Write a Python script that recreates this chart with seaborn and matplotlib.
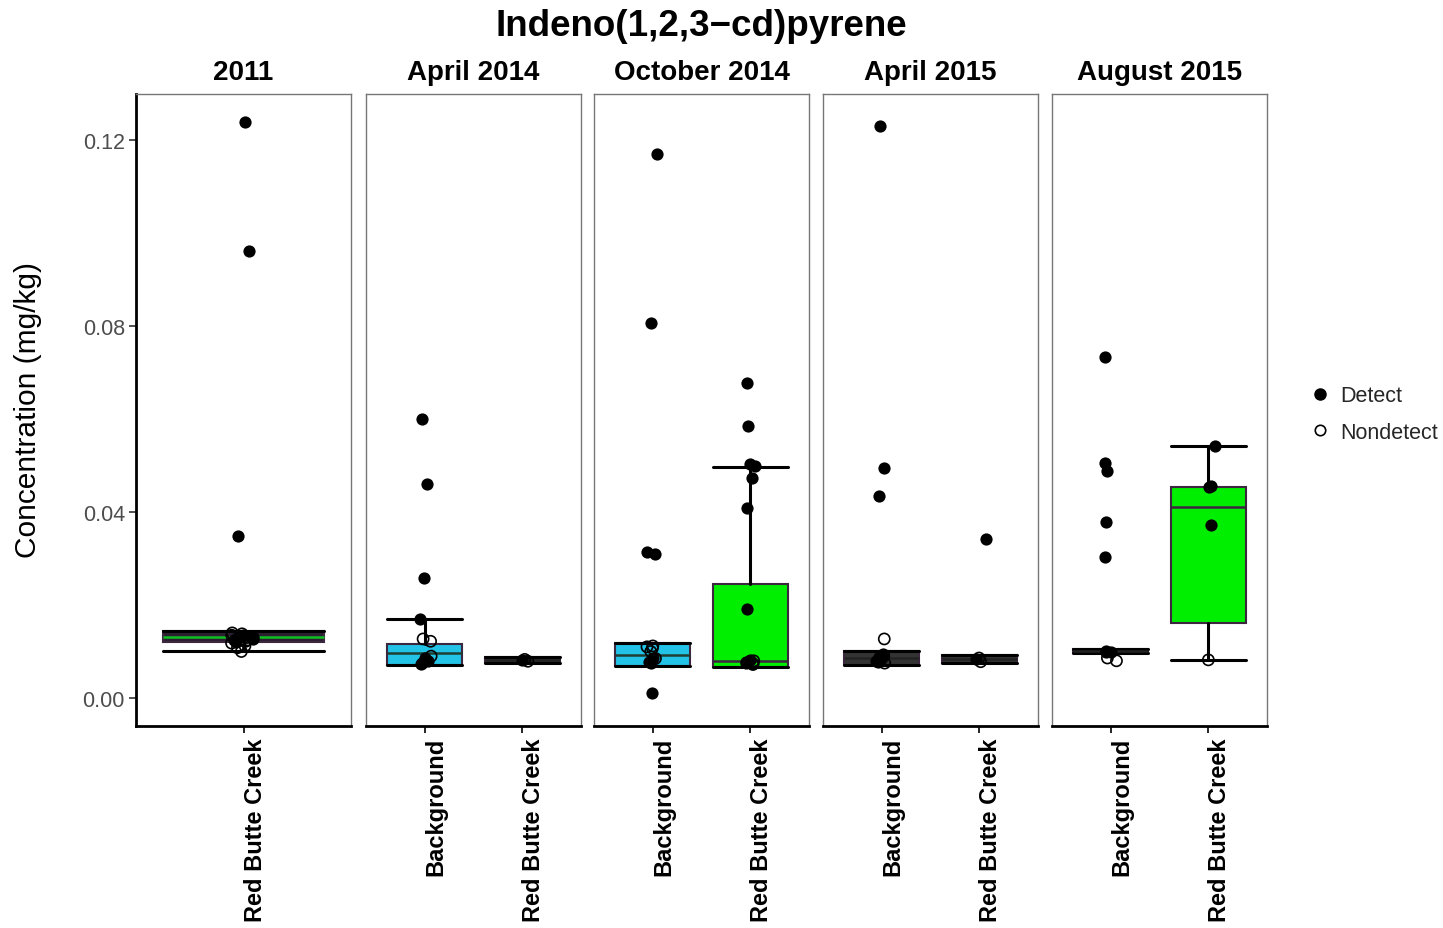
import numpy as np
import pandas as pd
import matplotlib
matplotlib.use("Agg")
import matplotlib.pyplot as plt
import seaborn as sns
from matplotlib.lines import Line2D
from matplotlib.markers import MarkerStyle

sns.set_theme(style="white")
plt.rcParams['font.family'] = ['Liberation Sans', 'DejaVu Sans']

# ---------------- data ----------------
periods = ["2011", "April 2014", "October 2014", "April 2015", "August 2015"]
site_bkg = "Background"
site_rbc = "Red Butte Creek"

# point values (mg/kg)
y2011_rbc_det = [0.1239, 0.0961, 0.0348, 0.0136, 0.0131, 0.0127, 0.0124, 0.0120]
y2011_rbc_nd = [0.0140, 0.0138, 0.0135, 0.0133, 0.0130, 0.0128, 0.0125, 0.0122,
                0.0118, 0.0112, 0.0108, 0.0100]
a2014_bkg_det = [0.0600, 0.0460, 0.0258, 0.0170, 0.0085, 0.0080, 0.0076, 0.0073]
a2014_bkg_nd = [0.0127, 0.0122, 0.0090]
a2014_rbc_det = [0.0081]
a2014_rbc_nd = [0.0083, 0.0079]
o2014_bkg_det = [0.1170, 0.0806, 0.0314, 0.0310, 0.0085, 0.0080, 0.0078, 0.0075, 0.0011]
o2014_bkg_nd = [0.0112, 0.0110, 0.0107, 0.0100, 0.0085]
o2014_rbc_det = [0.0677, 0.0585, 0.0503, 0.0499, 0.0473, 0.0409, 0.0191, 0.0082, 0.0078, 0.0076]
o2014_rbc_nd = [0.0080, 0.0074, 0.0072]
a2015_bkg_det = [0.1230, 0.0495, 0.0434, 0.0095, 0.0088, 0.0084, 0.0080, 0.0078]
a2015_bkg_nd = [0.0127, 0.0090, 0.0075]
a2015_rbc_det = [0.0342, 0.0084]
a2015_rbc_nd = [0.0086, 0.0078]
g2015_bkg_det = [0.0733, 0.0505, 0.0488, 0.0378, 0.0303, 0.0102, 0.0100, 0.0099]
g2015_bkg_nd = [0.0086, 0.0080]
g2015_rbc_det = [0.0542, 0.0456, 0.0454, 0.0372]
g2015_rbc_nd = [0.0082]

point_sets = [
    ("2011", site_rbc, y2011_rbc_det, y2011_rbc_nd),
    ("April 2014", site_bkg, a2014_bkg_det, a2014_bkg_nd),
    ("April 2014", site_rbc, a2014_rbc_det, a2014_rbc_nd),
    ("October 2014", site_bkg, o2014_bkg_det, o2014_bkg_nd),
    ("October 2014", site_rbc, o2014_rbc_det, o2014_rbc_nd),
    ("April 2015", site_bkg, a2015_bkg_det, a2015_bkg_nd),
    ("April 2015", site_rbc, a2015_rbc_det, a2015_rbc_nd),
    ("August 2015", site_bkg, g2015_bkg_det, g2015_bkg_nd),
    ("August 2015", site_rbc, g2015_rbc_det, g2015_rbc_nd),
]

# box statistics per group
box_period = ["2011", "April 2014", "April 2014", "October 2014", "October 2014",
              "April 2015", "April 2015", "August 2015", "August 2015"]
box_site = [site_rbc, site_bkg, site_rbc, site_bkg, site_rbc,
            site_bkg, site_rbc, site_bkg, site_rbc]
box_q1 = [0.0120, 0.0071, 0.0075, 0.0069, 0.0067, 0.0071, 0.0075, 0.0096, 0.0161]
box_med = [0.0131, 0.0097, 0.0081, 0.0093, 0.0080, 0.0086, 0.0083, 0.0101, 0.0411]
box_q3 = [0.0144, 0.0116, 0.0088, 0.0118, 0.0245, 0.0101, 0.0092, 0.0106, 0.0454]
box_lo = [0.0101, 0.0071, 0.0075, 0.0069, 0.0067, 0.0071, 0.0075, 0.0096, 0.0082]
box_hi = [0.0144, 0.0170, 0.0088, 0.0118, 0.0497, 0.0101, 0.0092, 0.0106, 0.0542]

# styles
fill_colors = ["#2c1f31", "#22c3e6", "#333333", "#22c3e6", "#00ee00",
               "#333333", "#333333", "#333333", "#00ee00"]
median_colors = ["#10c020", "#1f3f33", "#222222", "#1f3f33", "#3d2640",
                 "#222222", "#222222", "#222222", "#3d2640"]

rows = []
for per, site, det, nd in point_sets:
    for v in det:
        rows.append((per, site, v, "Detect"))
    for v in nd:
        rows.append((per, site, v, "Nondetect"))
df = pd.DataFrame(rows, columns=["period", "site", "value", "status"])

# ---------------- figure ----------------
W, H = 1443, 929
fig = plt.figure(figsize=(W / 100, H / 100), dpi=100)
fig.patch.set_facecolor("white")

panel_left_px = [136, 366, 594, 823, 1052]
panel_w_px = 215
panel_top_px, panel_bot_px = 95, 727
ylim = ((699 - panel_bot_px) / 4650, (699 - panel_top_px) / 4650)

np.random.seed(3)
axes = []
for i, per in enumerate(periods):
    ax = fig.add_axes([panel_left_px[i] / W, 1 - panel_bot_px / H,
                       panel_w_px / W, (panel_bot_px - panel_top_px) / H])
    axes.append(ax)
    order = [s for s in [site_bkg, site_rbc]
             if any((p == per and s2 == s) for p, s2 in zip(box_period, box_site))]
    n = len(order)
    width = 0.9 if n == 1 else 0.77

    stats, fills, meds = [], [], []
    for s in order:
        k = [j for j in range(len(box_period)) if box_period[j] == per and box_site[j] == s][0]
        stats.append(dict(med=box_med[k], q1=box_q1[k], q3=box_q3[k],
                          whislo=box_lo[k], whishi=box_hi[k], fliers=[]))
        fills.append(fill_colors[k])
        meds.append(median_colors[k])

    bp = ax.bxp(stats, positions=list(range(n)), widths=width, capwidths=width,
                patch_artist=True, showfliers=False, manage_ticks=False,
                boxprops=dict(edgecolor="#3d2640", linewidth=1.5),
                whiskerprops=dict(color="black", linewidth=2.2),
                capprops=dict(color="black", linewidth=2.2),
                medianprops=dict(linewidth=1.8), zorder=2)
    for patch, fc in zip(bp["boxes"], fills):
        patch.set_facecolor(fc)
    for line, mc in zip(bp["medians"], meds):
        line.set_color(mc)
    for w in bp["whiskers"]:
        w.set_zorder(2.5)

    sub = df[df.period == per]
    sns.stripplot(data=sub[sub.status == "Detect"], x="site", y="value", order=order,
                  color="black", size=8.8, jitter=0.07, linewidth=0, ax=ax, zorder=3)
    sns.stripplot(data=sub[sub.status == "Nondetect"], x="site", y="value", order=order,
                  color="black", marker=MarkerStyle("o", fillstyle="none"),
                  size=8.0, jitter=0.07, linewidth=1.2, ax=ax, zorder=3)

    ax.set_xlim(-0.6, n - 0.4)
    ax.set_ylim(*ylim)
    ax.set_xlabel("")
    ax.set_ylabel("")
    ax.set_xticks(list(range(n)))
    ax.set_xticklabels(order, rotation=90, fontsize=17, fontweight="bold",
                       color="black", ha="left")
    ax.tick_params(axis="x", length=5, width=1.2, color="black", pad=3, bottom=True)
    if i == 0:
        ax.set_yticks([0.0, 0.04, 0.08, 0.12])
        ax.set_yticklabels(["0.00", "0.04", "0.08", "0.12"], fontsize=15.5, color="#4d4d4d")
        ax.tick_params(axis="y", length=5, width=1.2, color="#333333", pad=3, left=True)
    else:
        ax.set_yticks([])
    for sp in ax.spines.values():
        sp.set_color("#777777")
        sp.set_linewidth(1.0)
    ax.spines["bottom"].set_color("black")
    ax.spines["bottom"].set_linewidth(2.0)
    if i == 0:
        ax.spines["left"].set_color("black")
        ax.spines["left"].set_linewidth(2.0)
    ax.grid(False)
    ax.text(0.5, 1 + (panel_top_px - 73) / (panel_bot_px - panel_top_px), per,
            transform=ax.transAxes, ha="center", va="center",
            fontsize=20, fontweight="bold", color="black")

fig.text(701 / W, 1 - 27 / H, "Indeno(1,2,3\u2212cd)pyrene", ha="center", va="center",
         fontsize=26.5, fontweight="bold", color="black")
fig.text(28 / W, 1 - 410 / H, "Concentration (mg/kg)", rotation=90, ha="center",
         va="center", fontsize=21.5, color="black")

handles = [Line2D([], [], linestyle="none", marker="o", markersize=8,
                  markerfacecolor="black", markeredgecolor="black"),
           Line2D([], [], linestyle="none", marker="o", markersize=7.5,
                  markerfacecolor="none", markeredgecolor="black", markeredgewidth=1.2)]
fig.legend(handles, ["Detect", "Nondetect"], loc="center left",
           bbox_to_anchor=(1300 / W, 1 - 415 / H), frameon=False, fontsize=15.5,
           handletextpad=0.35, labelspacing=0.7, handlelength=1.1, borderaxespad=0)

fig.savefig("out.png", dpi=100, facecolor="white")
